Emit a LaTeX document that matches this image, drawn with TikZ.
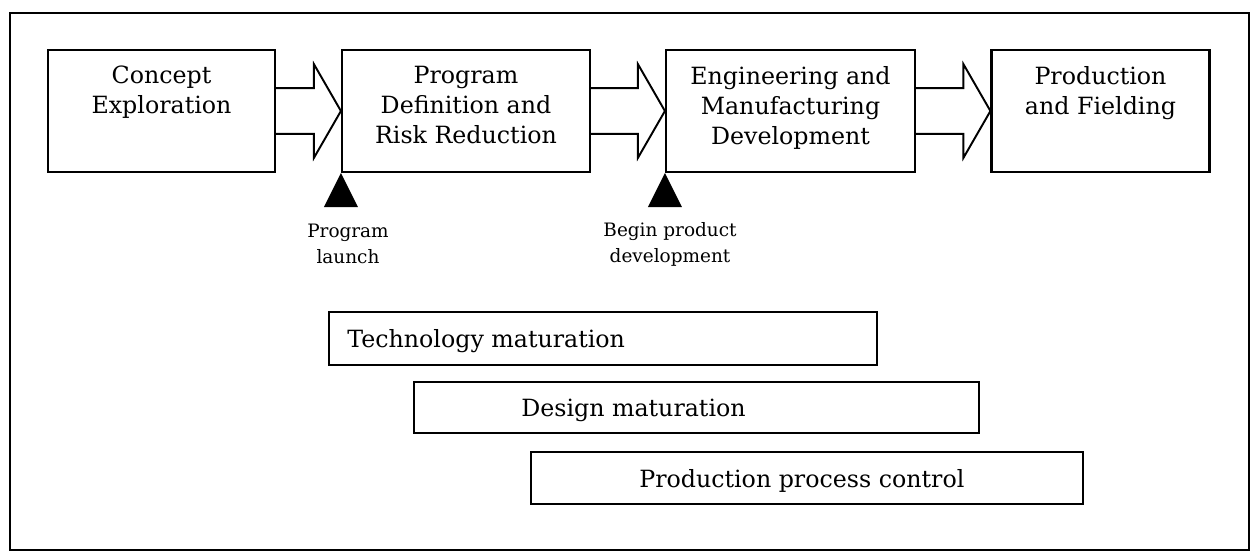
\documentclass[tikz,border=0pt]{standalone}
\usepackage{fontspec}
\setmainfont{DejaVu Serif}
\usetikzlibrary{calc}
\tikzset{
  phase/.style={draw, line width=1.25pt, rectangle, inner sep=0pt},
  boxtext/.style={align=center, inner sep=0pt, font=\fontsize{13.5}{17}\selectfont},
  bartext/.style={inner sep=0pt, font=\fontsize{13.5}{16}\selectfont},
  milestone/.style={align=center, inner sep=0pt, font=\fontsize{10.5}{14.7}\selectfont},
  fatarr/.style={draw, line width=1.1pt, line join=miter},
  frameline/.style={draw, line width=1.1pt},
  launchmark/.style={fill=black}
}
\newcommand\fatarrow[2]{%
  \draw[fatarr] let \p1=(#1.east), \p2=(#2.west) in
    (\x1,\y1+13.04pt) -- (\x2-15.36pt,\y1+13.04pt) -- (\x2-15.36pt,\y1+26.65pt)
    -- (\x2,\y1) -- (\x2-15.36pt,\y1-26.65pt) -- (\x2-15.36pt,\y1-13.04pt) -- (\x1,\y1-13.04pt);}
\begin{document}
\begin{tikzpicture}[x=0.02cm, y=-0.02cm]
\useasboundingbox (0,0) rectangle (1254,559);
\draw[frameline] (10,13) rectangle (1249,550);

% phase boxes
\node[phase, minimum width=4.54cm, minimum height=2.44cm] (c1) at (161.5,111) {};
\node[phase, minimum width=4.96cm, minimum height=2.44cm] (c2) at (466,111) {};
\node[phase, minimum width=4.98cm, minimum height=2.44cm] (c3) at (790.5,111) {};
\node[phase, minimum width=4.36cm, minimum height=2.44cm] (c4) at (1100.5,111) {};

\node[boxtext, anchor=north] (t1) at ([yshift=-0.34cm]c1.north) {Concept\\Exploration};
\node[boxtext, anchor=north] (t2) at ([yshift=-0.34cm]c2.north) {Program\\Definition and\\Risk Reduction};
\node[boxtext, anchor=north] (t3) at ([yshift=-0.34cm]c3.north) {Engineering and\\Manufacturing\\Development};
\node[boxtext, anchor=north] (t4) at ([yshift=-0.34cm]c4.north) {Production\\and Fielding};

% block arrows
\fatarrow{c1}{c2}
\fatarrow{c2}{c3}
\fatarrow{c3}{c4}

% milestones
\fill[launchmark] (c2.south west) -- ++(-17,34) -- ++(34,0) -- cycle;
\fill[launchmark] (c3.south west) -- ++(-17,34) -- ++(34,0) -- cycle;
\node[milestone] (m1) at (348,244) {Program\\launch};
\node[milestone] (m2) at (670,244) {Begin product\\development};

% maturation bars
\node[phase, minimum width=10.96cm, minimum height=1.06cm] (b1) at (603,338.5) {};
\node[phase, minimum width=11.30cm, minimum height=1.02cm] (b2) at (696.5,407.5) {};
\node[phase, minimum width=11.04cm, minimum height=1.04cm] (b3) at (807,478) {};

\node[bartext, anchor=base west] (bt1) at ([xshift=0.38cm, yshift=-0.18cm]b1.west) {Technology maturation};
\node[bartext, anchor=base west] (bt2) at ([xshift=2.16cm, yshift=-0.18cm]b2.west) {Design maturation};
\node[bartext, anchor=base west] (bt3) at ([xshift=2.18cm, yshift=-0.18cm]b3.west) {Production process control};
\end{tikzpicture}
\end{document}
